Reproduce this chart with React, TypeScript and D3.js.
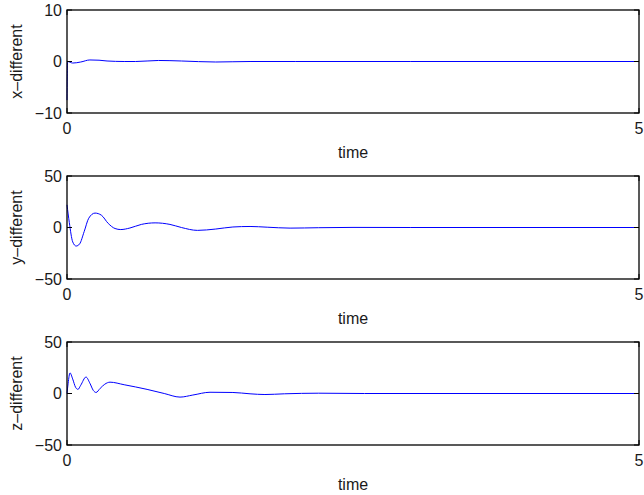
import React from "react";
import * as d3 from "d3";

const W = 644;
const H = 495;

const xTimes = [0, 0.002, 0.005, 0.05, 0.12, 0.2, 0.28, 0.35, 0.5, 0.6, 0.8, 1.0, 1.3, 1.6, 2.0, 3.0, 5.0];
const xValues = [-7.5, -3, 0, -0.3, -0.1, 0.3, 0.25, 0.1, 0, 0, 0.2, 0.1, -0.1, 0, 0, 0, 0];

const yTimes = [0, 0.02, 0.05, 0.08, 0.11, 0.15, 0.19, 0.245, 0.3, 0.36, 0.42, 0.47, 0.55, 0.65, 0.77, 0.9, 1.0, 1.14, 1.3, 1.45, 1.6, 1.75, 1.95, 2.2, 2.5, 3.0, 5.0];
const yValues = [22, 5, -14, -18, -16, -4, 9, 14, 12, 4, -1, -2, -0.5, 3, 4.5, 3, 0, -2.8, -1.5, 0.5, 1, 0.3, -0.6, -0.2, 0.1, 0, 0];

const zTimes = [0, 0.01, 0.026, 0.05, 0.075, 0.096, 0.12, 0.166, 0.2, 0.23, 0.254, 0.29, 0.33, 0.376, 0.5, 0.7, 0.85, 0.988, 1.1, 1.25, 1.45, 1.6, 1.73, 1.9, 2.2, 2.6, 5.0];
const zValues = [0, 10, 20, 14, 6, 4, 8, 16, 10, 3, 1, 5, 9, 11, 8.5, 4, 0, -3.5, -1.5, 1.2, 1, -0.3, -1, -0.3, 0.3, 0, 0];

const xTicks = [0, 5];
const panels = [
  { label: "x–different", times: xTimes, values: xValues, domain: [-10, 10], ticks: [-10, 0, 10], top: 10 },
  { label: "y–different", times: yTimes, values: yValues, domain: [-50, 50], ticks: [-50, 0, 50], top: 176 },
  { label: "z–different", times: zTimes, values: zValues, domain: [-50, 50], ticks: [-50, 0, 50], top: 342 },
];

const LEFT = 67;
const RIGHT = 639;
const PH = 103;
const FONT = "'Liberation Sans', Arial, Helvetica, sans-serif";
const FS = 16;
const TXT = "#1a1a1a";

function fmt(v: number) {
  return v < 0 ? "−" + Math.abs(v) : String(v);
}

function Panel({ p }: { p: (typeof panels)[number] }) {
  const x = d3.scaleLinear().domain([0, 5]).range([LEFT, RIGHT]);
  const y = d3.scaleLinear().domain(p.domain).range([p.top + PH, p.top]);
  const pts: [number, number][] = p.times.map((t, i) => [t, p.values[i]]);
  const line = d3
    .line<[number, number]>()
    .x((d) => x(d[0]))
    .y((d) => y(d[1]))
    .curve(d3.curveMonotoneX);
  return (
    <g>
      <path d={line(pts) || ""} fill="none" stroke="#0000ff" strokeWidth={1} />
      <rect x={LEFT} y={p.top} width={RIGHT - LEFT} height={PH} fill="none" stroke="#000" strokeWidth={1.3} />
      {p.ticks.map((t) => (
        <g key={t}>
          <line x1={LEFT} x2={LEFT + 5} y1={y(t)} y2={y(t)} stroke="#000" />
          <line x1={RIGHT} x2={RIGHT - 5} y1={y(t)} y2={y(t)} stroke="#000" />
          <text x={LEFT - 5} y={y(t)} dy="0.35em" textAnchor="end" fontSize={FS} fontFamily={FONT} fill={TXT}>
            {fmt(t)}
          </text>
        </g>
      ))}
      {xTicks.map((t) => (
        <g key={t}>
          <line x1={x(t)} x2={x(t)} y1={p.top + PH} y2={p.top + PH - 5} stroke="#000" />
          <line x1={x(t)} x2={x(t)} y1={p.top} y2={p.top + 5} stroke="#000" />
          <text x={x(t)} y={p.top + PH + 15} dy="0.35em" textAnchor="middle" fontSize={FS} fontFamily={FONT} fill={TXT}>
            {fmt(t)}
          </text>
        </g>
      ))}
      <text x={(LEFT + RIGHT) / 2} y={p.top + PH + 39} dy="0.35em" textAnchor="middle" fontSize={FS} fontFamily={FONT} fill={TXT}>
        time
      </text>
      <text
        transform={`translate(16,${p.top + PH / 2}) rotate(-90)`}
        dy="0.35em"
        textAnchor="middle"
        fontSize={FS}
        fontFamily={FONT}
        fill={TXT}
      >
        {p.label}
      </text>
    </g>
  );
}

export default function App() {
  return (
    <svg width={W} height={H} style={{ position: "absolute", left: 0, top: 0, background: "#fff" }}>
      <rect width={W} height={H} fill="#fff" />
      {panels.map((p) => (
        <Panel key={p.label} p={p} />
      ))}
    </svg>
  );
}
